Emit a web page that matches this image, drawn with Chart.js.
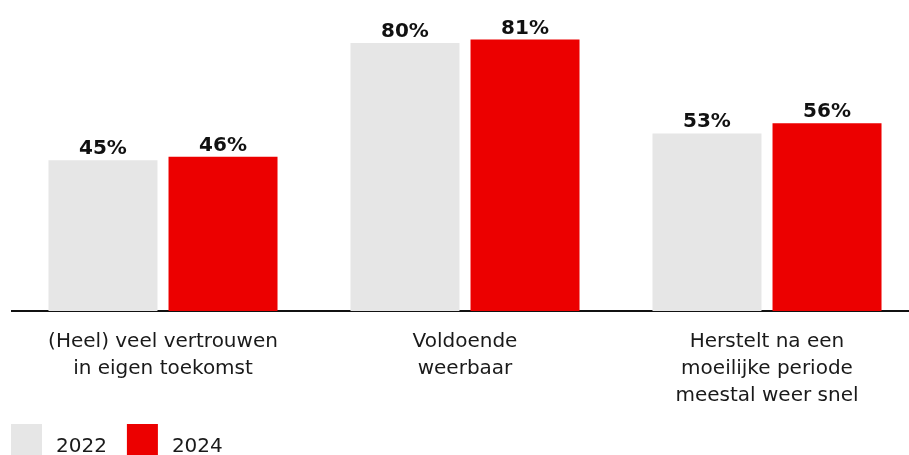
<!DOCTYPE html>
<html>
  <head>
    <title>Vertrouwen en weerbaarheid</title>
    <script src="https://cdn.jsdelivr.net/npm/chart.js@4"></script>
    <style>
      html, body { margin: 0; padding: 0; background: #fff; overflow: hidden; }
      #frame { width: 909px; height: 455px; overflow: hidden; position: relative; }
      #container { width: 918px; height: 455px; position: absolute; left: 0; top: 0; }
    </style>
  </head>

  <body>
    <div id="frame">
      <div id="container">
        <canvas id="canvas"></canvas>
      </div>
    </div>
    <script>
      // data
      var categories = [
        ['(Heel) veel vertrouwen', 'in eigen toekomst'],
        ['Voldoende', 'weerbaar'],
        ['Herstelt na een', 'moeilijke periode', 'meestal weer snel']
      ];
      var seriesNames = ['2022', '2024'];
      var values2022 = [45, 80, 53];
      var values2024 = [46, 81, 56];

      var FONT = '"DejaVu Sans", sans-serif';

      // draws the percentage above each bar
      var valueLabels = {
        id: 'valueLabels',
        afterDatasetsDraw: function (chart) {
          var ctx = chart.ctx;
          ctx.save();
          ctx.font = 'bold 20px ' + FONT;
          ctx.fillStyle = '#111';
          ctx.textAlign = 'center';
          ctx.textBaseline = 'alphabetic';
          chart.data.datasets.forEach(function (ds, i) {
            chart.getDatasetMeta(i).data.forEach(function (bar, j) {
              ctx.fillText(ds.data[j] + '%', bar.x, bar.y - 6);
            });
          });
          ctx.restore();
        }
      };

      // square legend at the bottom left, partly cut by the picture edge
      var squareLegend = {
        id: 'squareLegend',
        afterDraw: function (chart) {
          var ctx = chart.ctx;
          var x = 11, top = 424, box = 31;
          ctx.save();
          ctx.font = '20px ' + FONT;
          ctx.textBaseline = 'alphabetic';
          chart.data.datasets.forEach(function (ds) {
            ctx.fillStyle = ds.backgroundColor;
            ctx.fillRect(x, top, box, box);
            ctx.fillStyle = '#1a1a1a';
            ctx.fillText(ds.label, x + box + 14, 452);
            x += box + 14 + ctx.measureText(ds.label).width + 20;
          });
          ctx.restore();
        }
      };

      window.onload = function () {
        var ctx = document.getElementById('canvas').getContext('2d');
        window.myBar = new Chart(ctx, {
          type: 'bar',
          data: {
            labels: categories,
            datasets: [
              {
                label: seriesNames[0],
                data: values2022,
                backgroundColor: '#e6e6e6',
                categoryPercentage: 0.795,
                barPercentage: 0.908
              },
              {
                label: seriesNames[1],
                data: values2024,
                backgroundColor: '#ec0000',
                categoryPercentage: 0.795,
                barPercentage: 0.908
              }
            ]
          },
          options: {
            responsive: true,
            maintainAspectRatio: false,
            animation: false,
            layout: { padding: { left: 12, right: 0, top: 0, bottom: 37 } },
            plugins: {
              legend: { display: false },
              tooltip: { enabled: false }
            },
            scales: {
              x: {
                grid: { display: false },
                border: { display: true, color: '#111', width: 2 },
                ticks: {
                  color: '#1a1a1a',
                  padding: 9,
                  maxRotation: 0,
                  font: { family: FONT, size: 20, lineHeight: '27px' }
                }
              },
              y: {
                display: false,
                min: 0,
                max: 92.8
              }
            }
          },
          plugins: [valueLabels, squareLegend]
        });
      };
    </script>
  </body>
</html>
